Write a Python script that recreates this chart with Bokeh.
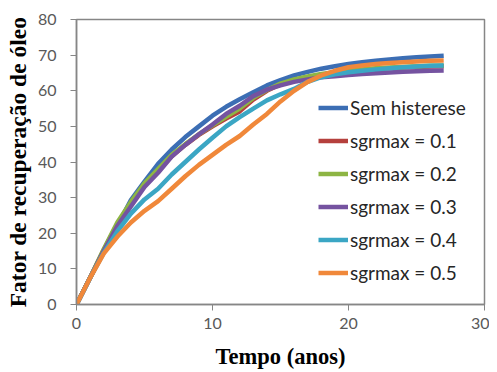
from bokeh.plotting import figure
from bokeh.models import Range1d, FixedTicker, Legend, LegendItem
from bokeh.embed import file_html
from bokeh.resources import INLINE

t = list(range(0, 28))
sem_histerese = [0, 7.5, 14.8, 22, 29.3, 34.5, 39.5, 43.5, 47, 50, 53, 55.5, 57.6, 59.6, 61.5, 63, 64.3, 65.3, 66.2, 66.9, 67.5, 68, 68.4, 68.8, 69.1, 69.4, 69.6, 69.8]
sgr01 = [0, 7.5, 15.3, 22.5, 28.5, 33.5, 37.6, 41.6, 44.8, 47.6, 50, 52.2, 54.2, 57.5, 60, 61.8, 63, 63.8, 64.5, 65, 65.4, 65.8, 66.1, 66.3, 66.5, 66.7, 66.8, 66.9]
sgr02 = [0, 7.5, 15.5, 23, 28.8, 34, 38, 42, 45, 47.8, 50.3, 52.7, 55, 58, 60.2, 62, 63.2, 64, 64.7, 65.2, 65.6, 66, 66.3, 66.5, 66.7, 66.9, 67.0, 67.1]
sgr03 = [0, 7.5, 15, 22, 27.5, 33, 37, 41.5, 44.8, 47.8, 50.5, 53.5, 55.8, 58.5, 60.3, 61.5, 62.5, 63.2, 63.8, 64.1, 64.4, 64.7, 64.9, 65.1, 65.3, 65.5, 65.6, 65.7]
sgr04 = [0, 7.5, 14.5, 20.5, 25.5, 29.5, 32.5, 36.5, 40, 43.5, 46.8, 50, 52.6, 55, 57.3, 59, 60.5, 62.5, 63.8, 64.6, 65.2, 65.6, 66, 66.3, 66.6, 66.8, 67, 67.1]
sgr05 = [0, 7.5, 14.3, 19, 23, 26.3, 29, 32.5, 36, 39.2, 42, 44.8, 47.3, 50.5, 53.5, 57, 60, 62.5, 64.3, 65.6, 66.6, 67.1, 67.5, 67.8, 68.0, 68.2, 68.4, 68.5]

labels = ["Sem histerese", "sgrmax = 0.1", "sgrmax = 0.2", "sgrmax = 0.3", "sgrmax = 0.4", "sgrmax = 0.5"]
series = [sem_histerese, sgr01, sgr02, sgr03, sgr04, sgr05]
colors = ["#3C6EB4", "#B5403D", "#8DB544", "#7553A0", "#3BA6C4", "#F0883A"]

x_ticks = [0, 10, 20, 30]
y_ticks = [0, 10, 20, 30, 40, 50, 60, 70, 80]

p = figure(width=489, height=372, output_backend="svg", toolbar_location=None,
           x_range=Range1d(0, 30), y_range=Range1d(0, 80),
           min_border_left=76, min_border_right=5, min_border_top=19, min_border_bottom=68)

p.xgrid.visible = False
p.ygrid.visible = False
p.outline_line_color = "#868686"
p.outline_line_width = 1.5

for ax in (p.xaxis[0], p.yaxis[0]):
    ax.axis_line_color = "#868686"
    ax.axis_line_width = 1.5
    ax.major_tick_line_color = "#868686"
    ax.major_tick_out = 6
    ax.major_tick_in = 0
    ax.minor_tick_line_color = None
    ax.major_label_text_font = "Lato"
    ax.major_label_text_font_size = "16px"
    ax.major_label_text_color = "#595959"
    ax.axis_label_text_font = "Liberation Serif"
    ax.axis_label_text_font_style = "bold"
    ax.axis_label_text_color = "#000000"

p.xaxis.axis_label_text_font_size = "22.5px"
p.yaxis.axis_label_text_font_size = "23.5px"
p.xaxis.ticker = FixedTicker(ticks=x_ticks)
p.yaxis.ticker = FixedTicker(ticks=y_ticks)
p.xaxis.axis_label = "Tempo (anos)"
p.yaxis.axis_label = "Fator de recuperação de óleo"
p.xaxis.major_label_standoff = 7
p.yaxis.major_label_standoff = 14
p.xaxis.axis_label_standoff = 12
p.yaxis.axis_label_standoff = 4

items = []
for lab, ys, c in zip(labels, series, colors):
    r = p.line(t, ys, line_color=c, line_width=4.5)
    items.append(LegendItem(label=lab, renderers=[r]))

legend = Legend(items=items, location=(242, 20), padding=0, margin=0,
                spacing=10, glyph_width=30, glyph_height=23, label_height=23,
                label_standoff=2, label_text_font="Lato", label_text_font_size="19px",
                label_text_color="#262626", border_line_color=None,
                background_fill_alpha=0)
p.add_layout(legend)

open("out.html", "w").write(file_html(p, INLINE))
